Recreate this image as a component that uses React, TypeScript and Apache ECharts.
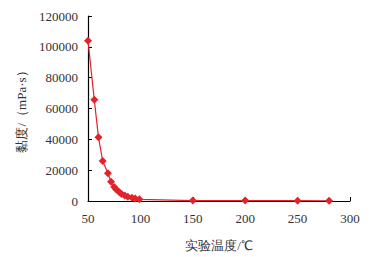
import React, { useEffect, useRef } from "react";
import * as echarts from "echarts";

const temperatures = [50, 56, 60, 64, 69, 72, 75, 77, 80, 82, 85, 88, 92, 95, 99, 150, 200, 250, 280];
const viscosities = [104000, 65600, 41300, 26000, 18000, 12500, 9100, 7400, 5700, 4600, 3600, 2700, 2100, 1700, 1100, 300, 250, 200, 150];
const xAxisName = "实验温度/℃";
const yAxisName = "黏度/（mPa·s）";

export default function App() {
  const ref = useRef<HTMLDivElement>(null);
  useEffect(() => {
    if (!ref.current) return;
    const chart = echarts.init(ref.current, undefined, { renderer: "svg" });
    const serif = "Liberation Serif";
    const cjk = "Liberation Serif";
    chart.setOption({
      animation: false,
      backgroundColor: "#ffffff",
      textStyle: { fontFamily: serif },
      grid: { left: 88, right: 34, top: 16, bottom: 52 },
      xAxis: {
        type: "value",
        min: 50,
        max: 300,
        interval: 50,
        name: xAxisName,
        nameLocation: "middle",
        nameGap: 38,
        nameTextStyle: { fontFamily: cjk, fontSize: 13, color: "#333" },
        axisLine: { show: true, lineStyle: { color: "#000", width: 1.2 } },
        axisTick: { show: true, inside: true, length: 4, lineStyle: { color: "#000" } },
        axisLabel: { fontFamily: serif, fontSize: 13, color: "#333", margin: 11, formatter: (v: number) => String(v) },
        splitLine: { show: false },
      },
      yAxis: {
        type: "value",
        min: 0,
        max: 120000,
        interval: 20000,
        name: yAxisName,
        nameLocation: "middle",
        nameRotate: 90,
        nameGap: 58,
        nameTextStyle: { fontFamily: cjk, fontSize: 13, color: "#333" },
        axisLine: { show: true, lineStyle: { color: "#000", width: 1.2 } },
        axisTick: { show: true, inside: true, length: 4, lineStyle: { color: "#000" } },
        axisLabel: { fontFamily: serif, fontSize: 13, color: "#333", margin: 10, formatter: (v: number) => String(v) },
        splitLine: { show: false },
      },
      series: [
        {
          type: "line",
          data: temperatures.map((t, i) => [t, viscosities[i]]),
          symbol: "diamond",
          symbolSize: 8,
          lineStyle: { color: "#e3222b", width: 1.2 },
          itemStyle: { color: "#e3222b" },
        },
      ],
    });
    return () => chart.dispose();
  }, []);
  return <div ref={ref} style={{ width: 384, height: 257, marginLeft: -8, marginTop: -8 }} />;
}
